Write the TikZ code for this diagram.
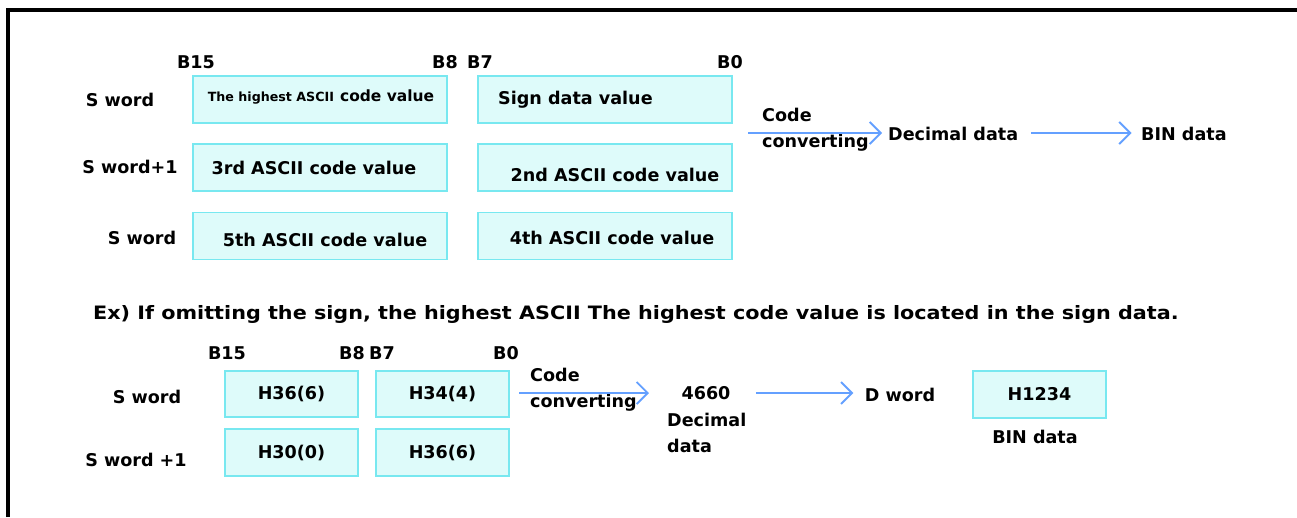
\documentclass[tikz,border=0pt]{standalone}
\usepackage{fontspec}
\setmainfont{DejaVu Sans}
\usetikzlibrary{arrows.meta, positioning}
\definecolor{cellfill}{RGB}{222,251,250}
\definecolor{celldraw}{RGB}{120,232,240}
\definecolor{flowblue}{RGB}{100,160,255}

\begin{document}
\begin{tikzpicture}[x=0.02cm, y=-0.02cm,
    font=\bfseries\fontsize{10}{15}\selectfont,
    cell/.style={draw=celldraw, fill=cellfill, line width=1.1pt,
                 minimum width=5.08cm, minimum height=0.94cm},
    bitcell/.style={cell, minimum width=2.66cm, minimum height=0.93cm},
    flow/.style={draw=flowblue, line width=1.1pt,
                 -{Straight Barb[length=0.22cm, width=0.44cm]}}]
  \useasboundingbox (0,0) rectangle (1297,517);
  \draw[line width=0.08cm] (8,517) -- (8,10) -- (1297,10);

  % general layout
  \node at (196,62) {B15};
  \node at (445,62) {B8};
  \node at (480,62) {B7};
  \node at (730,62) {B0};
  \node (sw1) at (120,100) {S word};
  \node (sw2) at (130,167) {S word+1};
  \node (sw3) at (142,238) {S word};
  \node[cell] (hi) at (320,99.5) {};
  \node[cell] (sgn) at (605,99.5) {};
  \node[cell] (a3) at (320,167.5) {};
  \node[cell] (a2) at (605,167.5) {};
  \node[cell] (a5) at (320,236) {};
  \node[cell] (a4) at (605,236) {};
  \node at (321,97) {{\fontsize{7.2}{9}\selectfont The highest ASCII} {\fontsize{8.8}{10}\selectfont code value}};
  \node[anchor=west] at (492,100) {Sign data value};
  \node at (314,168) {3rd ASCII code value};
  \node at (615,175) {2nd ASCII code value};
  \node at (325,240) {5th ASCII code value};
  \node at (612,238) {4th ASCII code value};

  \coordinate (c1) at (748,133);
  \node[anchor=west, align=left] (conv1) at (756,130) {Code\\converting};
  \node[anchor=west] (dec) at (882,134) {Decimal data};
  \node[anchor=west] (bin) at (1135,134) {BIN data};
  \draw[flow] (c1) -- (dec.west |- c1);
  \draw[flow, shorten <=4pt, shorten >=2pt] (dec.east |- c1) -- (bin.west |- c1);

  \node[anchor=west] (ex) at (87,314)
    {\scalebox{1.18}[1.05]{Ex) If omitting the sign, the highest ASCII The highest code value is located in the sign data.}};

  % example
  \node at (227,353) {B15};
  \node at (352,353) {B8};
  \node at (382,353) {B7};
  \node at (506,353) {B0};
  \node (sw4) at (147,397) {S word};
  \node (sw5) at (136,460) {S word +1};
  \node[bitcell] (h36) at (291.5,394) {H36(6)};
  \node[bitcell] (h34) at (442.5,394) {H34(4)};
  \node[bitcell] (h30) at (291.5,452.5) {H30(0)};
  \node[bitcell] (h36b) at (442.5,452.5) {H36(6)};

  \coordinate (c2) at (519,393);
  \node[anchor=west, align=left] (conv2) at (524,390) {Code\\converting};
  \node (val) at (706,393) {4660};
  \node[anchor=west, align=left] (decb) at (661,433) {Decimal\\data};
  \node (dw) at (900,395) {D word};
  \node[bitcell] (h1234) at (1039.5,394.5) {H1234};
  \node (binb) at (1035,437) {BIN data};
  \draw[flow, shorten >=15pt] (c2) -- (val.west |- c2);
  \draw[flow, shorten <=11pt, shorten >=3pt] (val.east |- c2) -- (dw.west |- c2);
\end{tikzpicture}
\end{document}
